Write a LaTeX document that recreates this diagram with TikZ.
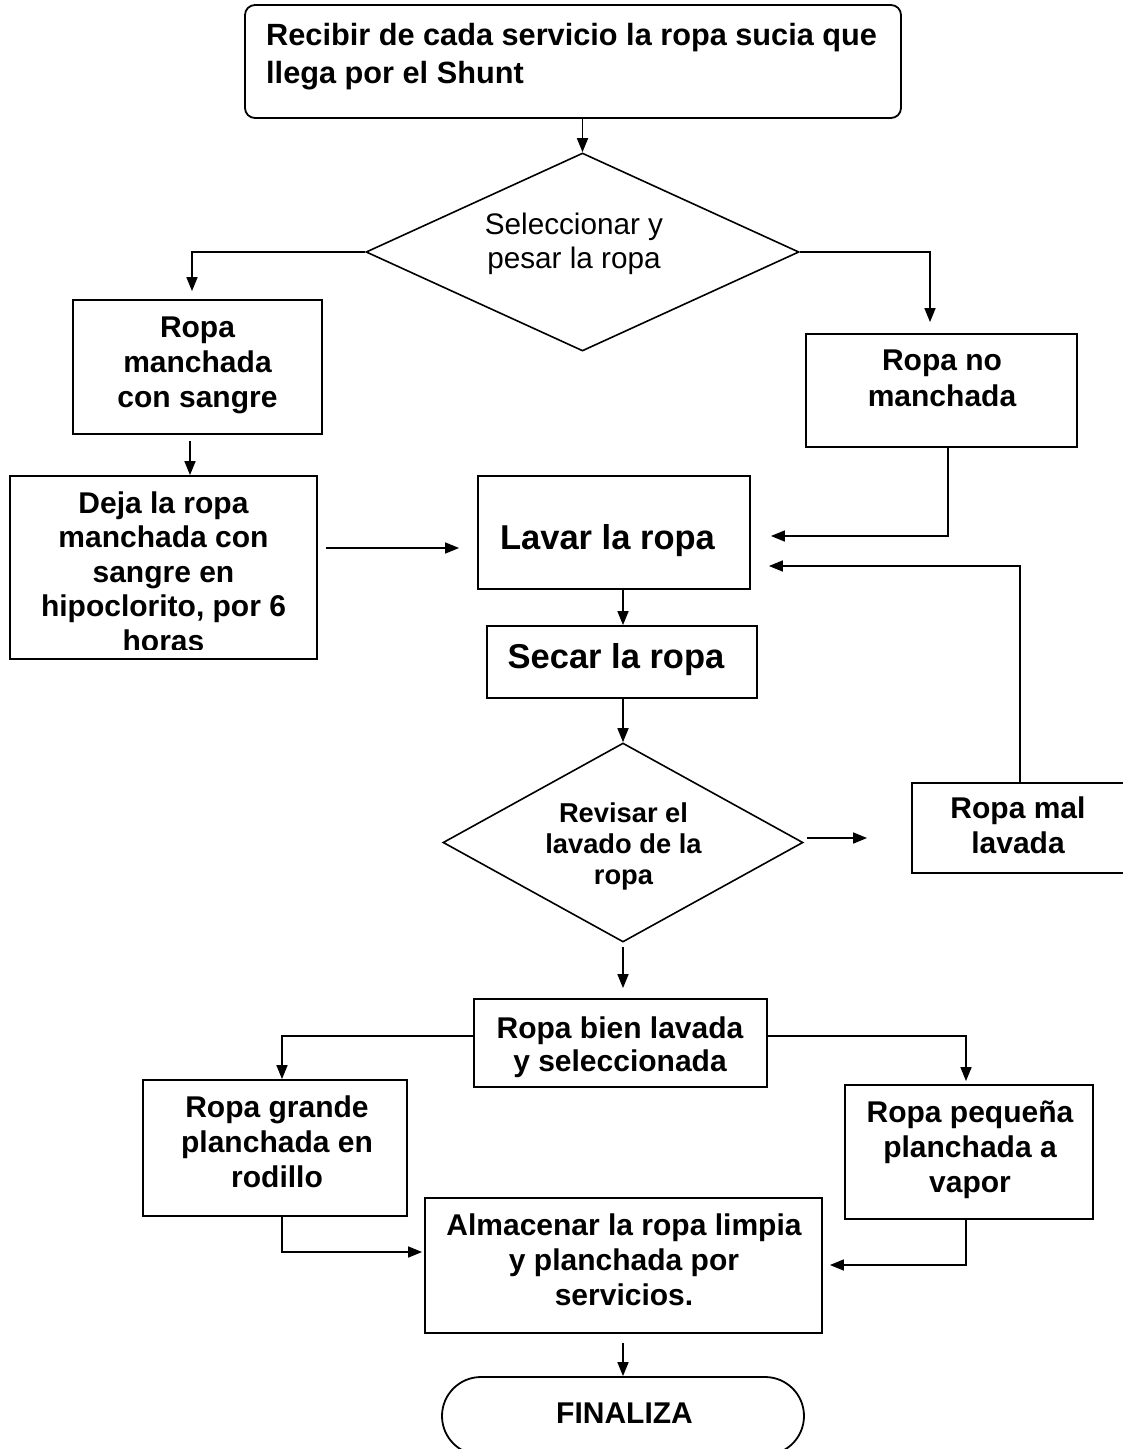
\documentclass[tikz,border=0pt]{standalone}
\usepackage{fontspec}
\setmainfont{Liberation Sans}
\usetikzlibrary{arrows.meta,shapes.geometric}
\begin{document}
\begin{tikzpicture}[x=1pt,y=-1pt,
  box/.style={draw,rectangle,inner sep=0pt,line width=1.8pt},
  dia/.style={draw,diamond,inner sep=0pt,line width=1.6pt},
  txt/.style={inner sep=0pt,align=center,font=\fontsize{30}{35}\selectfont\bfseries},
  arr/.style={-{Triangle[length=14pt,width=11pt]},line width=1.6pt}]
\useasboundingbox (0,0) rectangle (1123,1449);
\fill[white] (0,0) rectangle (1123,1449);

% shapes
\node[box, rounded corners=10pt, minimum width=656pt, minimum height=113pt] (top) at (573,61.5) {};
\node[dia, minimum width=433pt, minimum height=198pt] (d1) at (582.5,252) {};
\node[box, minimum width=249pt, minimum height=134pt] (bRM) at (197.5,367) {};
\node[box, minimum width=307pt, minimum height=183pt] (bDeja) at (163.5,567.5) {};
\node[box, minimum width=271pt, minimum height=113pt] (bRNM) at (941.5,390.5) {};
\node[box, minimum width=272pt, minimum height=113pt] (bLavar) at (614,532.5) {};
\node[box, minimum width=270pt, minimum height=72pt] (bSecar) at (622,662) {};
\node[dia, minimum width=360pt, minimum height=199pt] (d2) at (623,842.5) {};
\node[box, minimum width=218pt, minimum height=90pt] (bMal) at (1021,828) {};
\node[box, minimum width=293pt, minimum height=88pt] (bBien) at (620.5,1043) {};
\node[box, minimum width=264pt, minimum height=136pt] (bGrande) at (275,1148) {};
\node[box, minimum width=248pt, minimum height=134pt] (bPeq) at (969,1152) {};
\node[box, minimum width=397pt, minimum height=135pt] (bAlm) at (623.5,1265.5) {};
\node[box, rounded corners=39pt, minimum width=362pt, minimum height=78pt] (term) at (623,1416) {};

% texts
\node[inner sep=0pt, anchor=west, align=left, font=\fontsize{30.7}{38}\selectfont\bfseries] (tTop) at (266,56.4) {\strut Recibir de cada servicio la ropa sucia que\\llega por el Shunt\strut};
\node[inner sep=0pt, align=center, font=\fontsize{29.7}{34}\selectfont] (tD1) at (574,244.2) {\strut Seleccionar y\\pesar la ropa\strut};
\node[txt] (tRM) at (197.5,365) {\strut Ropa\\manchada\\con sangre\strut};
\begin{scope}
\clip (10,476) rectangle (317,649);
\node[txt, font=\fontsize{30}{34.5}\selectfont\bfseries] (tDeja) at (163.5,575.1) {\strut Deja la ropa\\manchada con\\sangre en\\hipoclorito, por 6\\horas\strut};
\end{scope}
\node[txt, font=\fontsize{30}{36}\selectfont\bfseries] (tRNM) at (942,380.8) {\strut Ropa no\\manchada\strut};
\node[inner sep=0pt, anchor=base, font=\fontsize{34.5}{40}\selectfont\bfseries] (tLavar) at (607.5,549) {Lavar la ropa};
\node[inner sep=0pt, anchor=base, font=\fontsize{34.5}{40}\selectfont\bfseries] (tSecar) at (616,668) {Secar la ropa};
\node[txt, font=\fontsize{27.3}{31}\selectfont\bfseries] (tD2) at (623.5,846.8) {\strut Revisar el\\lavado de la\\ropa\strut};
\node[txt] (tMal) at (1018,828.5) {\strut Ropa mal\\lavada\strut};
\node[txt, font=\fontsize{30}{33}\selectfont\bfseries] (tBien) at (620,1047.9) {\strut Ropa bien lavada\\y seleccionada\strut};
\node[txt] (tGrande) at (277,1145) {\strut Ropa grande\\planchada en\\rodillo\strut};
\node[txt] (tPeq) at (970,1150) {\strut Ropa pequeña\\planchada a\\vapor\strut};
\node[txt] (tAlm) at (624,1263) {\strut Almacenar la ropa limpia\\y planchada por\\servicios.\strut};
\node[inner sep=0pt, anchor=base, font=\fontsize{30}{35}\selectfont\bfseries] (tFin) at (624.5,1423) {FINALIZA};

% connectors
\draw[arr] (d1.north |- top.south) -- (d1.north);
\coordinate (c1) at ([xshift=-5.5pt]bRM.north);
\draw[arr, shorten >=8pt] (d1.west) -| (c1);
\coordinate (c2) at ([xshift=-7.5pt,yshift=-6pt]bRM.south);
\draw[arr] (c2) -- (c2 |- bDeja.north);
\coordinate (c3) at ([xshift=8pt,yshift=19.5pt]bDeja.east);
\draw[arr, shorten >=18pt] (c3) -- (c3 -| bLavar.west);
\coordinate (c4) at ([xshift=-11.5pt]bRNM.north);
\draw[arr, shorten >=11pt] (d1.east) -| (c4);
\coordinate (c5) at ([xshift=6.5pt]bRNM.south);
\coordinate (c6) at ([yshift=-3.5pt]bLavar.east);
\draw[arr, shorten >=20pt] (c5) |- (c6);
\coordinate (c7) at ([xshift=-1pt]bMal.north);
\coordinate (c8) at ([yshift=-33.5pt]bLavar.east);
\draw[arr, shorten >=18pt] (c7) |- (c8);
\coordinate (c9) at ([xshift=1pt]bSecar.north);
\draw[arr] (c9 |- bLavar.south) -- (c9);
\draw[arr] (d2.north |- bSecar.south) -- (d2.north);
\coordinate (c10) at ([xshift=3pt,yshift=4.5pt]d2.east);
\draw[arr, shorten >=44pt] (c10) -- (c10 -| bMal.west);
\coordinate (c11) at ([yshift=-4pt]d2.south);
\draw[arr, shorten >=10pt] (c11) -- (c11 |- bBien.north);
\coordinate (c12) at ([xshift=7pt]bGrande.north);
\draw[arr] ([yshift=7pt]bBien.west) -| (c12);
\coordinate (c13) at ([xshift=-3pt]bPeq.north);
\draw[arr, shorten >=3pt] ([yshift=7pt]bBien.east) -| (c13);
\coordinate (c14) at ([xshift=7pt]bGrande.south);
\coordinate (c15) at ([yshift=13.5pt]bAlm.west);
\draw[arr, shorten >=2pt] (c14) |- (c15);
\coordinate (c16) at ([xshift=-3pt]bPeq.south);
\coordinate (c17) at ([yshift=0.5pt]bAlm.east);
\draw[arr, shorten >=7pt] (c16) |- (c17);
\coordinate (c18) at ([yshift=-9pt]bAlm.south);
\draw[arr] (c18 -| term.north) -- (term.north);
\end{tikzpicture}
\end{document}
